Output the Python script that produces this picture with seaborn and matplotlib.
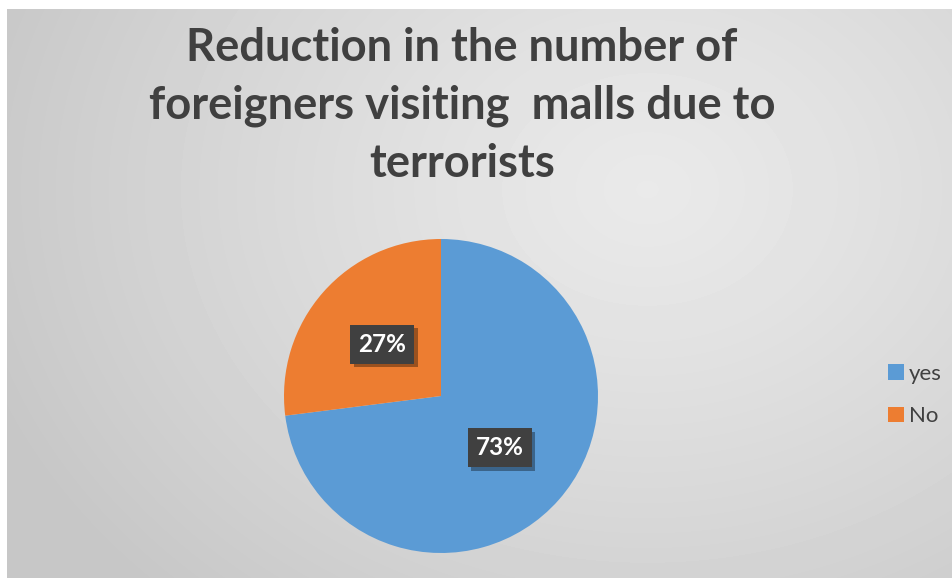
import numpy as np
import matplotlib
matplotlib.use("Agg")
import matplotlib.pyplot as plt
import matplotlib.patheffects as pe
import seaborn as sns

sns.set_style("white")
plt.rcParams['font.family'] = ['Lato', 'DejaVu Sans']

# Survey answers
categories = ["yes", "No"]
shares = [73, 27]
colors = ["#5B9BD5", "#ED7D31"]
title = "Reduction in the number of\nforeigners visiting  malls due to\nterrorists"

W, H = 953, 578
fig = plt.figure(figsize=(W / 100, H / 100), dpi=100)
fig.patch.set_facecolor("white")

# Chart area with a soft radial grey gradient
bg = fig.add_axes([7 / W, 0, (W - 7) / W, (H - 9) / H])
yy, xx = np.mgrid[0:569, 0:946]
d = np.hypot((xx - 640) / 1.0, (yy - 180) / 0.8)
d = np.clip(d / 700, 0, 1)
shade = 0.915 - 0.135 * d ** 1.2
bg.imshow(shade, cmap="gray", vmin=0, vmax=1, aspect="auto", interpolation="bilinear")
bg.set_axis_off()

fig.text(462 / W, 1 - 106 / H, title, ha="center", va="center", fontsize=32.7,
         fontweight="bold", color="#404040", linespacing=1.45)

# Pie
r = 157
cx, cy = 441, 396
ax = fig.add_axes([(cx - r) / W, 1 - (cy + r) / H, 2 * r / W, 2 * r / H])
wedges, _ = ax.pie(shares, colors=colors, startangle=90, counterclock=False,
                   wedgeprops=dict(linewidth=0))
ax.set_aspect("equal")
ax.set_xlim(-1, 1)
ax.set_ylim(-1, 1)

total = sum(shares)
start = 90.0
for val in shares:
    theta = np.deg2rad(start - 360 * val / total / 2)
    start -= 360 * val / total
    x, y = 0.5 * np.cos(theta), 0.5 * np.sin(theta)
    t = ax.text(x, y, f"{val}%", ha="center", va="center", fontsize=17.5,
                fontweight="bold", color="white",
                bbox=dict(boxstyle="square,pad=0.33", facecolor="#404040", edgecolor="none"))
    t.get_bbox_patch().set_path_effects([
        pe.SimplePatchShadow(offset=(2.5, -2.5), shadow_rgbFace="black", alpha=0.35),
        pe.Normal()])

leg = fig.legend(wedges, categories, loc="center left", bbox_to_anchor=(868 / W, 1 - 395 / H),
                 frameon=False, fontsize=16, handlelength=0.7, handleheight=0.7,
                 handletextpad=0.25, labelspacing=1.0, labelcolor="#404040")

fig.savefig("out.png", dpi=100, facecolor=fig.get_facecolor())
